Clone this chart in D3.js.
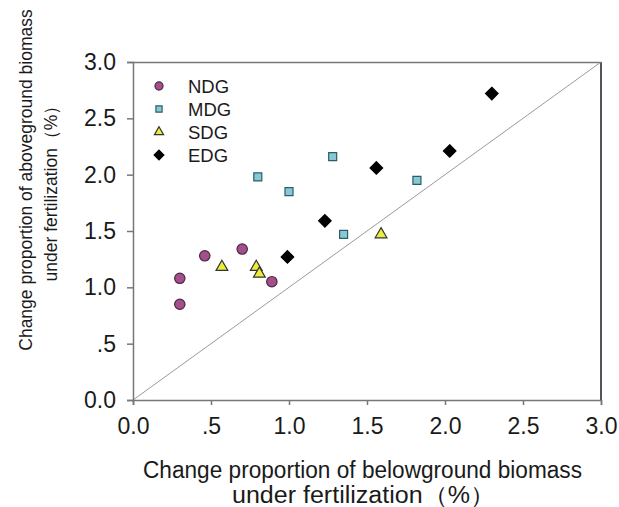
<!DOCTYPE html>
<html><head><meta charset="utf-8">
<script src="https://cdn.jsdelivr.net/npm/d3@7"></script>
<style>body{margin:0;background:#fff}svg{display:block}text{font-family:"Liberation Sans",Arial,sans-serif;fill:#1a1a1a}</style>
</head><body>
<script>
const ndgX = [0.30, 0.30, 0.46, 0.70, 0.89];
const ndgY = [1.08, 0.85, 1.28, 1.34, 1.05];
const mdgX = [0.80, 1.00, 1.28, 1.35, 1.82];
const mdgY = [1.98, 1.85, 2.16, 1.47, 1.95];
const sdgX = [0.57, 0.79, 0.81, 1.59];
const sdgY = [1.18, 1.18, 1.12, 1.47];
const edgX = [0.99, 1.23, 1.56, 2.03, 2.30];
const edgY = [1.27, 1.59, 2.06, 2.21, 2.72];
const tickVals = [0, 0.5, 1.0, 1.5, 2.0, 2.5, 3.0];
const tickLabels = ["0.0", ".5", "1.0", "1.5", "2.0", "2.5", "3.0"];
const seriesNames = ["NDG", "MDG", "SDG", "EDG"];
const xTitle = ["Change proportion of belowground biomass", "under fertilization（%）"];
const yTitle = ["Change proportion of aboveground biomass", "under fertilization（%）"];

const W = 619, H = 507;
const L = 133, R = 601, T = 62, B = 400;
const svg = d3.select("body").append("svg").attr("width", W).attr("height", H);
const x = d3.scaleLinear().domain([0, 3]).range([L, R]);
const y = d3.scaleLinear().domain([0, 3]).range([B, T]);

// frame
svg.append("line").attr("x1", L).attr("x2", R).attr("y1", T + 0.5).attr("y2", T + 0.5).attr("stroke", "#777").attr("stroke-width", 1.5);
svg.append("line").attr("x1", R).attr("x2", R).attr("y1", T).attr("y2", B).attr("stroke", "#555").attr("stroke-width", 2);

// diagonal
svg.append("line").attr("x1", x(0)).attr("y1", y(0)).attr("x2", x(3)).attr("y2", y(3)).attr("stroke", "#9a9a9a").attr("stroke-width", 1);

const fmt = d => tickLabels[tickVals.indexOf(d)];
const xa = svg.append("g").attr("transform", `translate(0,${B})`)
  .call(d3.axisBottom(x).tickValues(tickVals).tickFormat(fmt).tickSize(5).tickPadding(13));
const ya = svg.append("g").attr("transform", `translate(${L},0)`)
  .call(d3.axisLeft(y).tickValues(tickVals).tickFormat(fmt).tickSize(6).tickPadding(11));
[xa, ya].forEach(a => {
  a.selectAll("path,line").attr("stroke", "#777").attr("stroke-width", 1.5);
  a.selectAll("text").attr("font-size", 23).attr("fill", "#1a1a1a").style("font-family", '"Liberation Sans",Arial,sans-serif');
});

// titles
svg.append("text").attr("x", 362.5).attr("y", 478).attr("text-anchor", "middle").attr("font-size", 23)
  .attr("textLength", 439).attr("lengthAdjust", "spacingAndGlyphs").text(xTitle[0]);
svg.append("text").attr("x", 363.5).attr("y", 503).attr("text-anchor", "middle").attr("font-size", 23)
  .attr("textLength", 263).attr("lengthAdjust", "spacingAndGlyphs").text(xTitle[1]);
svg.append("text").attr("transform", "translate(32,180) rotate(-90)").attr("text-anchor", "middle").attr("font-size", 17.5)
  .text(yTitle[0]);
svg.append("text").attr("transform", "translate(57,189) rotate(-90)").attr("text-anchor", "middle").attr("font-size", 17.5)
  .text(yTitle[1]);

const styles = {
  NDG: {shape: d3.symbolCircle, size: 85, fill: "#a24f8c", stroke: "#4a2a40"},
  MDG: {shape: d3.symbolSquare, size: 64, fill: "#86c9d5", stroke: "#2d5d66"},
  SDG: {shape: d3.symbolTriangle, size: 60, fill: "#eded3c", stroke: "#333"},
  EDG: {shape: d3.symbolDiamond2, size: 100, fill: "#000", stroke: "#000"}
};
const data = {
  NDG: ndgX.map((v, i) => [v, ndgY[i]]),
  MDG: mdgX.map((v, i) => [v, mdgY[i]]),
  SDG: sdgX.map((v, i) => [v, sdgY[i]]),
  EDG: edgX.map((v, i) => [v, edgY[i]])
};
seriesNames.forEach(n => {
  const s = styles[n];
  svg.append("g").selectAll("path").data(data[n]).join("path")
    .attr("transform", d => `translate(${x(d[0])},${y(d[1])})`)
    .attr("d", d3.symbol().type(s.shape).size(s.size))
    .attr("fill", s.fill).attr("stroke", s.stroke).attr("stroke-width", 1.2);
});

// legend
seriesNames.forEach((n, i) => {
  const s = styles[n];
  const ly = 86 + i * 23;
  svg.append("path").attr("transform", `translate(159,${ly})`)
    .attr("d", d3.symbol().type(s.shape).size(s.size * 0.6))
    .attr("fill", s.fill).attr("stroke", s.stroke).attr("stroke-width", 1.2);
  svg.append("text").attr("x", 188).attr("y", ly + 7).attr("font-size", 18.5).text(n);
});
</script>
</body></html>
